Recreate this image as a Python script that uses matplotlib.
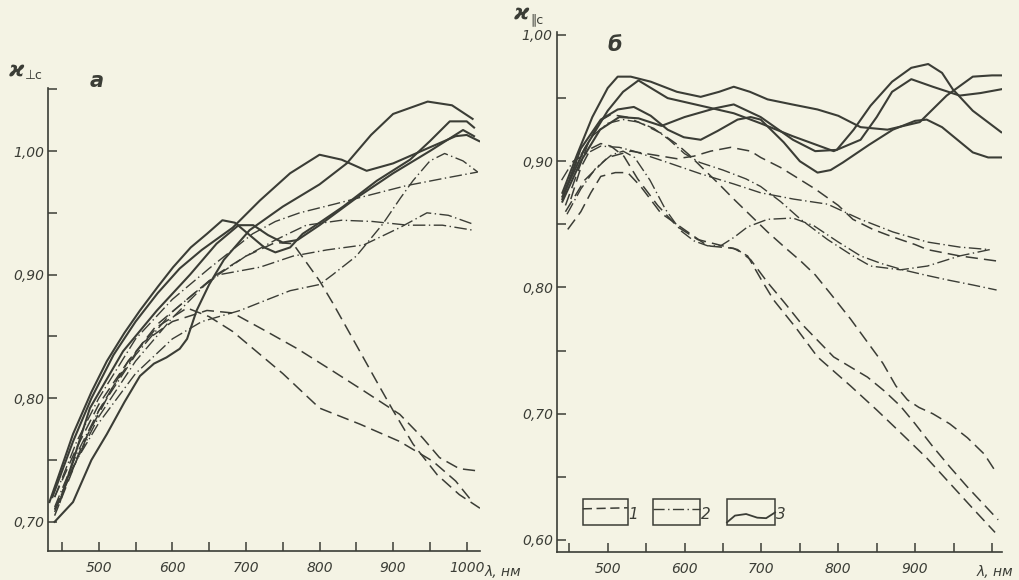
import matplotlib
matplotlib.use('Agg')
import matplotlib.pyplot as plt
from matplotlib.patches import Rectangle

plt.rcParams['font.family'] = ['DejaVu Sans']
plt.rcParams['font.style'] = 'italic'
plt.rcParams['mathtext.fontset'] = 'dejavusans'

BG = '#f4f3e4'
INK = '#3b3d36'

# ---- панель а: x_perp_c ----
left_s1_x = [440, 465, 490, 511, 535, 556, 575, 592, 610, 620, 633, 650, 670, 705, 750, 800, 837, 870, 900, 947, 980, 1008]
left_s1_y = [0.700, 0.716, 0.750, 0.771, 0.797, 0.818, 0.828, 0.833, 0.840, 0.848, 0.871, 0.892, 0.912, 0.936, 0.955, 0.973, 0.990, 1.013, 1.030, 1.040, 1.037, 1.026]
left_s2_x = [437, 465, 490, 520, 550, 580, 610, 640, 682, 719, 760, 800, 830, 864, 900, 950, 985, 1000, 1017]
left_s2_y = [0.720, 0.765, 0.800, 0.835, 0.862, 0.885, 0.905, 0.920, 0.938, 0.960, 0.982, 0.997, 0.993, 0.984, 0.990, 1.003, 1.012, 1.013, 1.008]
left_s3_x = [433, 450, 465, 490, 511, 535, 556, 580, 601, 625, 647, 668, 685, 705, 725, 740, 760, 777, 800, 832, 878, 923, 950, 977, 1000, 1010]
left_s3_y = [0.716, 0.745, 0.771, 0.805, 0.830, 0.853, 0.871, 0.890, 0.906, 0.922, 0.933, 0.944, 0.942, 0.932, 0.922, 0.918, 0.922, 0.933, 0.942, 0.955, 0.976, 0.993, 1.008, 1.024, 1.024, 1.019]
left_s4_x = [447, 488, 533, 579, 624, 660, 690, 710, 730, 750, 770, 800, 850, 900, 950, 995, 1010]
left_s4_y = [0.716, 0.792, 0.838, 0.871, 0.900, 0.925, 0.940, 0.940, 0.932, 0.926, 0.928, 0.940, 0.962, 0.982, 1.000, 1.017, 1.012]

left_d1_x = [440, 470, 500, 540, 580, 620, 660, 700, 740, 764, 800, 818, 850, 880, 900, 927, 960, 990, 1018]
left_d1_y = [0.705, 0.750, 0.790, 0.830, 0.860, 0.880, 0.900, 0.915, 0.926, 0.925, 0.895, 0.877, 0.843, 0.811, 0.790, 0.763, 0.738, 0.722, 0.711]
left_d2_x = [440, 470, 500, 540, 580, 620, 650, 682, 750, 800, 855, 909, 954, 985, 1008]
left_d2_y = [0.720, 0.760, 0.795, 0.830, 0.858, 0.873, 0.866, 0.854, 0.820, 0.792, 0.779, 0.765, 0.749, 0.733, 0.716]
left_d3_x = [440, 480, 520, 560, 600, 647, 682, 728, 770, 818, 860, 909, 940, 963, 990, 1018]
left_d3_y = [0.710, 0.765, 0.810, 0.845, 0.862, 0.871, 0.869, 0.854, 0.840, 0.822, 0.806, 0.787, 0.768, 0.752, 0.743, 0.741]

left_dd1_x = [440, 470, 500, 550, 600, 650, 709, 740, 773, 820, 859, 918, 970, 1015]
left_dd1_y = [0.720, 0.765, 0.800, 0.848, 0.880, 0.905, 0.933, 0.943, 0.950, 0.957, 0.963, 0.972, 0.978, 0.983]
left_dd2_x = [440, 470, 500, 550, 600, 640, 664, 719, 764, 810, 860, 909, 946, 975, 1008]
left_dd2_y = [0.712, 0.755, 0.790, 0.835, 0.870, 0.890, 0.900, 0.906, 0.915, 0.920, 0.924, 0.938, 0.950, 0.948, 0.941]
left_dd3_x = [440, 470, 500, 550, 600, 650, 700, 740, 782, 830, 872, 920, 967, 1008]
left_dd3_y = [0.708, 0.750, 0.785, 0.830, 0.865, 0.895, 0.915, 0.928, 0.940, 0.944, 0.943, 0.940, 0.940, 0.936]
left_dd4_x = [440, 470, 500, 550, 600, 640, 692, 730, 760, 800, 818, 850, 886, 910, 927, 950, 970, 995, 1015]
left_dd4_y = [0.710, 0.750, 0.780, 0.820, 0.848, 0.862, 0.871, 0.880, 0.887, 0.892, 0.900, 0.915, 0.941, 0.962, 0.976, 0.992, 0.998, 0.992, 0.983]

# ---- панель б: x_par_c ----
right_sa_x = [441, 460, 480, 500, 513, 530, 556, 590, 621, 645, 664, 685, 708, 740, 773, 800, 829, 864, 906, 941, 975, 1000, 1013]
right_sa_y = [0.875, 0.905, 0.935, 0.958, 0.967, 0.967, 0.963, 0.955, 0.951, 0.955, 0.959, 0.955, 0.949, 0.945, 0.941, 0.936, 0.927, 0.925, 0.931, 0.952, 0.967, 0.968, 0.968]
right_sb_x = [441, 470, 500, 520, 540, 578, 621, 664, 699, 740, 794, 829, 850, 870, 895, 923, 958, 985, 1012]
right_sb_y = [0.872, 0.910, 0.940, 0.955, 0.964, 0.950, 0.944, 0.938, 0.930, 0.920, 0.908, 0.917, 0.935, 0.955, 0.965, 0.959, 0.952, 0.954, 0.957]
right_sc_x = [441, 465, 491, 513, 534, 556, 578, 599, 621, 643, 669, 686, 699, 729, 750, 773, 790, 806, 840, 871, 900, 915, 935, 949, 975, 995, 1013]
right_sc_y = [0.870, 0.910, 0.933, 0.941, 0.943, 0.936, 0.925, 0.919, 0.917, 0.924, 0.933, 0.935, 0.933, 0.915, 0.900, 0.891, 0.893, 0.899, 0.913, 0.925, 0.932, 0.933, 0.927, 0.920, 0.907, 0.903, 0.903]
right_sd_x = [441, 465, 490, 515, 540, 570, 600, 640, 664, 699, 741, 770, 798, 820, 842, 870, 895, 917, 935, 949, 975, 1012]
right_sd_y = [0.868, 0.900, 0.925, 0.935, 0.934, 0.928, 0.935, 0.942, 0.945, 0.935, 0.917, 0.908, 0.909, 0.925, 0.944, 0.963, 0.974, 0.977, 0.970, 0.957, 0.940, 0.923]

right_da_x = [448, 465, 478, 491, 510, 526, 543, 569, 604, 630, 664, 682, 700, 716, 745, 773, 816, 850, 881, 915, 945, 975, 1004]
right_da_y = [0.846, 0.860, 0.875, 0.888, 0.891, 0.891, 0.880, 0.859, 0.844, 0.833, 0.831, 0.825, 0.806, 0.790, 0.768, 0.745, 0.722, 0.703, 0.685, 0.665, 0.645, 0.625, 0.606]
right_db_x = [452, 465, 478, 491, 504, 521, 539, 565, 591, 617, 643, 669, 686, 708, 730, 751, 794, 838, 860, 881, 900, 923, 945, 968, 1008]
right_db_y = [0.870, 0.895, 0.910, 0.914, 0.912, 0.904, 0.886, 0.865, 0.848, 0.838, 0.834, 0.830, 0.822, 0.804, 0.788, 0.772, 0.745, 0.729, 0.718, 0.706, 0.692, 0.674, 0.658, 0.642, 0.616]
right_dc_x = [445, 460, 475, 490, 504, 525, 547, 570, 591, 606, 621, 643, 664, 686, 708, 730, 751, 770, 790, 816, 840, 858, 875, 890, 905, 923, 945, 968, 990, 1006]
right_dc_y = [0.865, 0.890, 0.915, 0.932, 0.937, 0.935, 0.929, 0.922, 0.913, 0.905, 0.896, 0.883, 0.870, 0.857, 0.844, 0.832, 0.821, 0.810, 0.795, 0.775, 0.755, 0.740, 0.722, 0.711, 0.705, 0.700, 0.692, 0.681, 0.668, 0.653]
right_dd_x = [445, 470, 500, 530, 560, 590, 612, 634, 660, 686, 699, 725, 741, 770, 800, 819, 845, 871, 900, 916, 958, 1006]
right_dd_y = [0.860, 0.885, 0.903, 0.908, 0.905, 0.902, 0.904, 0.908, 0.911, 0.908, 0.903, 0.895, 0.889, 0.878, 0.865, 0.854, 0.846, 0.840, 0.834, 0.830, 0.825, 0.821]

right_dda_x = [440, 455, 469, 491, 515, 534, 578, 621, 664, 699, 742, 786, 829, 871, 916, 958, 997]
right_dda_y = [0.885, 0.900, 0.905, 0.912, 0.911, 0.908, 0.899, 0.890, 0.882, 0.875, 0.870, 0.866, 0.854, 0.844, 0.836, 0.832, 0.830]
right_ddb_x = [443, 460, 480, 500, 520, 540, 560, 580, 600, 620, 650, 680, 699, 725, 751, 786, 819, 842, 881, 916, 958, 997]
right_ddb_y = [0.875, 0.900, 0.920, 0.930, 0.933, 0.931, 0.926, 0.917, 0.906, 0.899, 0.893, 0.886, 0.880, 0.868, 0.854, 0.838, 0.825, 0.817, 0.814, 0.817, 0.825, 0.830]
right_ddc_x = [447, 465, 485, 505, 520, 535, 555, 575, 595, 612, 630, 647, 665, 682, 708, 741, 768, 800, 829, 856, 884, 912, 942, 975, 1006]
right_ddc_y = [0.858, 0.878, 0.895, 0.905, 0.908, 0.903, 0.885, 0.862, 0.845, 0.837, 0.833, 0.833, 0.840, 0.848, 0.854, 0.855, 0.849, 0.836, 0.825, 0.819, 0.814, 0.810, 0.806, 0.802, 0.798]

left_curves = [
    (left_s1_x, left_s1_y, 3), (left_s2_x, left_s2_y, 3),
    (left_s3_x, left_s3_y, 3), (left_s4_x, left_s4_y, 3),
    (left_d1_x, left_d1_y, 1), (left_d2_x, left_d2_y, 1), (left_d3_x, left_d3_y, 1),
    (left_dd1_x, left_dd1_y, 2), (left_dd2_x, left_dd2_y, 2),
    (left_dd3_x, left_dd3_y, 2), (left_dd4_x, left_dd4_y, 2),
]
right_curves = [
    (right_sa_x, right_sa_y, 3), (right_sb_x, right_sb_y, 3),
    (right_sc_x, right_sc_y, 3), (right_sd_x, right_sd_y, 3),
    (right_da_x, right_da_y, 1), (right_db_x, right_db_y, 1),
    (right_dc_x, right_dc_y, 1), (right_dd_x, right_dd_y, 1),
    (right_dda_x, right_dda_y, 2), (right_ddb_x, right_ddb_y, 2), (right_ddc_x, right_ddc_y, 2),
]

left_xticks = [450, 500, 550, 600, 650, 700, 750, 800, 850, 900, 950, 1000]
left_xlabels = ['', '500', '', '600', '', '700', '', '800', '', '900', '', '1000']
left_yticks = [0.70, 0.75, 0.80, 0.85, 0.90, 0.95, 1.00, 1.05]
left_ylabels = ['0,70', '', '0,80', '', '0,90', '', '1,00', '']
right_xticks = [450, 500, 550, 600, 650, 700, 750, 800, 850, 900, 950, 1000]
right_xlabels = ['', '500', '', '600', '', '700', '', '800', '', '900', '', '']
right_yticks = [0.60, 0.65, 0.70, 0.75, 0.80, 0.85, 0.90, 0.95, 1.00]
right_ylabels = ['0,60', '', '0,70', '', '0,80', '', '0,90', '', '1,00']


def draw(ax, x, y, kind):
    if kind == 3:
        ax.plot(x, y, color=INK, lw=1.5, solid_joinstyle='round')
    elif kind == 1:
        ax.plot(x, y, color=INK, lw=1.1, ls=(0, (8, 4)))
    else:
        ax.plot(x, y, color=INK, lw=1.0, ls=(0, (9, 2.5, 1, 2.5)))


def style(ax, xt, xl, yt, yl):
    for s in ['top', 'right']:
        ax.spines[s].set_visible(False)
    for s in ['left', 'bottom']:
        ax.spines[s].set_color(INK)
        ax.spines[s].set_linewidth(1.2)
    ax.patch.set_alpha(0)
    ax.set_xticks(xt)
    ax.set_xticklabels(xl)
    ax.set_yticks(yt)
    ax.set_yticklabels(yl)
    ax.tick_params(direction='in', length=6.5, width=1.1, color=INK,
                   labelcolor=INK, labelsize=10)
    ax.tick_params(axis='x', pad=7)
    ax.tick_params(axis='y', pad=3)


def kappa(ax, x, y, sub):
    # обозначение оси: каппа с индексом
    ax.text(x, y, 'ϰ', transform=ax.transAxes, ha='right', va='center',
            fontsize=15, fontweight='bold', color=INK)
    ax.text(x + 0.002, y - 0.012, sub, transform=ax.transAxes, ha='left',
            va='center', fontsize=9, fontstyle='normal', color=INK)


fig = plt.figure(figsize=(10.19, 5.8), dpi=100, facecolor=BG)

ax1 = fig.add_axes([0.0471, 0.050, 0.4239, 0.7983])
for x, y, k in left_curves:
    draw(ax1, x, y, k)
ax1.set_xlim(431, 1018)
ax1.set_ylim(0.6764, 1.051)
style(ax1, left_xticks, left_xlabels, left_yticks, left_ylabels)
ax1.text(1.01, -0.046, 'λ, нм', transform=ax1.transAxes, ha='left', va='center',
         fontsize=10, color=INK)
kappa(ax1, -0.055, 1.038, '⊥c')
ax1.text(0.113, 1.015, 'а', transform=ax1.transAxes, ha='center', va='center',
         fontsize=15, fontweight='bold', color=INK)

ax2 = fig.add_axes([0.5466, 0.0483, 0.4367, 0.8966])
for x, y, k in right_curves:
    draw(ax2, x, y, k)
ax2.set_xlim(434, 1013)
ax2.set_ylim(0.5905, 1.0024)
style(ax2, right_xticks, right_xlabels, right_yticks, right_ylabels)
ax2.text(0.985, -0.038, 'λ, нм', transform=ax2.transAxes, ha='center', va='center',
         fontsize=10, color=INK)
kappa(ax2, -0.062, 1.035, '∥c')
ax2.text(0.13, 0.975, 'б', transform=ax2.transAxes, ha='center', va='center',
         fontsize=15, fontweight='bold', color=INK)

# легенда: три рамки с образцами линий
boxes = [(0.058, 0.101, '1'), (0.216, 0.106, '2'), (0.382, 0.108, '3')]
for (x0, w, lab) in boxes:
    ax2.add_patch(Rectangle((x0, 0.052), w, 0.05, transform=ax2.transAxes,
                            fill=False, edgecolor=INK, lw=1.1))
    ax2.text(x0 + w + 0.012, 0.072, lab, transform=ax2.transAxes, ha='center',
             va='center', fontsize=11, color=INK)
ax2.plot([0.058, 0.159], [0.083, 0.085], transform=ax2.transAxes, color=INK,
         lw=1.1, ls=(0, (6, 3)))
ax2.plot([0.216, 0.322], [0.083, 0.083], transform=ax2.transAxes, color=INK,
         lw=1.0, ls=(0, (8, 2.5, 1, 2.5)))
ax2.plot([0.382, 0.40, 0.425, 0.45, 0.47, 0.49], [0.057, 0.070, 0.073, 0.066, 0.065, 0.076],
         transform=ax2.transAxes, color=INK, lw=1.3)

fig.savefig('out.png', dpi=100, facecolor=BG)
